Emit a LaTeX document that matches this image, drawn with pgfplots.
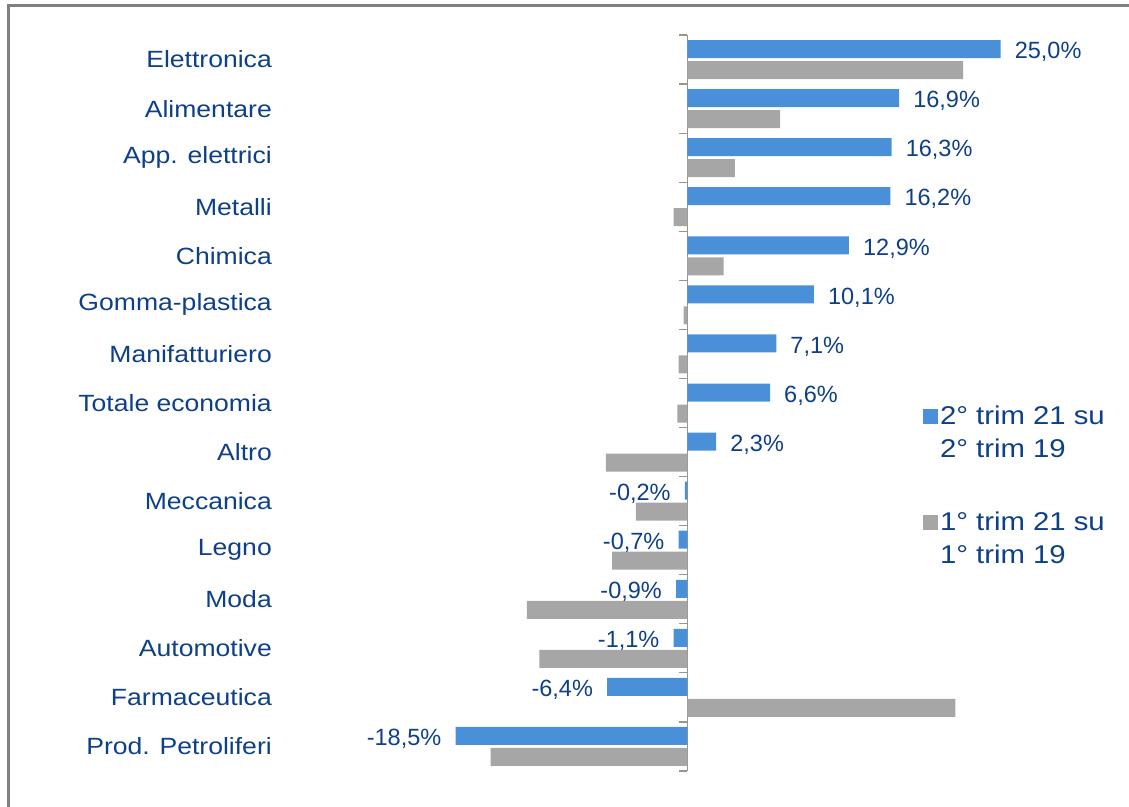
\documentclass[border=0pt]{standalone}
\usepackage{pgfplots}
\pgfplotsset{compat=1.18}
\usepackage{fontspec}
\setmainfont{Liberation Sans}
\newfontfamily\catfont[FakeStretch=1.13]{Liberation Sans}
\newfontfamily\legfont[FakeStretch=1.14]{Liberation Sans}
\definecolor{barblue}{RGB}{74,144,217}
\definecolor{bargray}{RGB}{166,166,166}
\definecolor{txtblue}{RGB}{14,64,136}
\definecolor{framegray}{RGB}{128,128,128}
\definecolor{axgray}{RGB}{150,150,140}
\begin{document}
\begin{tikzpicture}[x=1pt,y=1pt]
\path[use as bounding box] (0,0) rectangle (1129,806);
\draw[framegray, line width=2.5pt] (8.5,-20) -- (8.5,800.5) -- (1150,800.5);
\begin{axis}[
  at={(311.4pt,35pt)}, anchor=south west, scale only axis,
  width=814.5pt, height=736pt,
  xmin=-30, xmax=35, ymin=-0.5, ymax=14.5, y dir=reverse,
  axis x line=none, axis y line=middle,
  axis line style={-, draw=axgray, line width=1.2pt},
  ytick={0,...,14},
  yticklabels={Elettronica,Alimentare,App. elettrici,Metalli,Chimica,Gomma-plastica,Manifatturiero,Totale economia,Altro,Meccanica,Legno,Moda,Automotive,Farmaceutica,Prod. Petroliferi},
  major tick length=0pt,
  minor ytick={-0.5,0.5,...,14.5}, minor tick length=8pt, tick align=outside,
  tick style={draw=axgray, line width=1.2pt},
  yticklabel style={font=\catfont\fontsize{23.5}{28}\selectfont, text=txtblue, anchor=east, xshift=-412pt},
  xbar, bar width=18pt,
  legend style={at={(0.747,0.5015)}, anchor=north west, draw=none, fill=none,
    font=\legfont\fontsize{25.7}{33}\selectfont, text=txtblue,
    nodes={align=left}, row sep=49pt},
  legend cell align=left,
]
\addplot[fill=barblue, draw=none, bar shift=10.5pt, point meta=x,
  nodes near coords={\pgfmathprintnumber[fixed,fixed zerofill,precision=1,use comma,assume math mode=true]{\pgfplotspointmeta}\%},
  nodes near coords align=horizontal,
  every node near coord/.append style={font=\fontsize{23.5}{28}\selectfont, text=txtblue, inner xsep=14pt, yshift=-3pt},
  legend image code/.code={\fill[barblue] (-2pt,9pt) rectangle (13pt,24pt);}]
coordinates {(25.0,0) (16.9,1) (16.3,2) (16.2,3) (12.9,4) (10.1,5) (7.1,6) (6.6,7) (2.3,8) (-0.2,9) (-0.7,10) (-0.9,11) (-1.1,12) (-6.4,13) (-18.5,14)};
\addlegendentry{2° trim 21 su\\2° trim 19}
\addplot[fill=bargray, draw=none, bar shift=-10.5pt,
  legend image code/.code={\fill[bargray] (-2pt,9pt) rectangle (13pt,24pt);}]
coordinates {(22.0,0) (7.4,1) (3.8,2) (-1.1,3) (2.9,4) (-0.3,5) (-0.7,6) (-0.8,7) (-6.5,8) (-4.1,9) (-6.0,10) (-12.8,11) (-11.8,12) (21.4,13) (-15.7,14)};
\addlegendentry{1° trim 21 su\\1° trim 19}
\end{axis}
\end{tikzpicture}
\end{document}
